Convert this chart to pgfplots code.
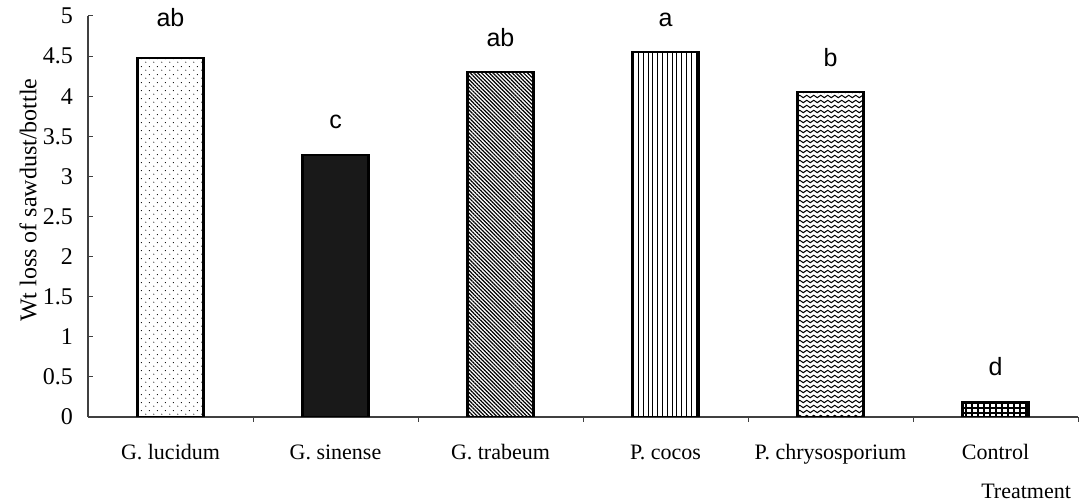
\documentclass[border=0pt]{standalone}
\usepackage{fontspec}
\setmainfont{Liberation Serif}
\setsansfont{Liberation Sans}
\usepackage{pgfplots}
\pgfplotsset{compat=1.18}
\usetikzlibrary{patterns,patterns.meta}

\pgfdeclarepatternformonly{sparsedots}{\pgfpointorigin}{\pgfpoint{4pt}{4pt}}{\pgfpoint{4pt}{4pt}}{%
  \pgfpathcircle{\pgfpoint{1pt}{1pt}}{0.32pt}%
  \pgfpathcircle{\pgfpoint{3pt}{3pt}}{0.32pt}%
  \pgfusepath{fill}}
\pgfdeclarepatternformonly{waves}{\pgfpoint{-0.3pt}{-0.3pt}}{\pgfpoint{3.8pt}{2.8pt}}{\pgfpoint{3.5pt}{2.5pt}}{%
  \pgfsetlinewidth{0.5pt}%
  \pgfpathmoveto{\pgfpoint{0pt}{1.25pt}}%
  \pgfpathcurveto{\pgfpoint{0.45pt}{2.05pt}}{\pgfpoint{1.3pt}{2.05pt}}{\pgfpoint{1.75pt}{1.25pt}}%
  \pgfpathcurveto{\pgfpoint{2.2pt}{0.45pt}}{\pgfpoint{3.05pt}{0.45pt}}{\pgfpoint{3.5pt}{1.25pt}}%
  \pgfusepath{stroke}}
\pgfdeclarepatternformonly{densegrid}{\pgfpoint{-0.5pt}{-0.5pt}}{\pgfpoint{3.5pt}{2.9pt}}{\pgfpoint{3pt}{2.4pt}}{%
  \pgfsetlinewidth{0.9pt}%
  \pgfpathmoveto{\pgfpoint{0pt}{0pt}}\pgfpathlineto{\pgfpoint{3pt}{0pt}}%
  \pgfpathmoveto{\pgfpoint{0pt}{0pt}}\pgfpathlineto{\pgfpoint{0pt}{2.4pt}}%
  \pgfusepath{stroke}}

\begin{document}
\begin{tikzpicture}
\begin{axis}[
  scale only axis,
  width=495pt, height=200.5pt,
  axis lines*=left,
  axis line style={black!75, line width=0.6pt},
  xmin=-0.5, xmax=5.5, ymin=0, ymax=5,
  enlargelimits=false,
  tick align=inside,
  major tick length=2.5pt, minor tick length=2.5pt,
  tick style={black!75, line width=0.5pt},
  ytick={0,0.5,...,5},
  yticklabel style={/pgf/number format/assume math mode=true, /pgf/number format/fixed, font=\fontsize{12}{14}\selectfont, xshift=-4pt},
  xtick={0,1,2,3,4,5},
  xticklabels={G. lucidum, G. sinense, G. trabeum, P. cocos, P. chrysosporium, Control},
  major x tick style={draw=none},
  minor xtick={0.5,1.5,2.5,3.5,4.5,5.5},
  xticklabel style={anchor=base, yshift=-19pt, font=\fontsize{11}{13}\selectfont},
  ylabel={Wt loss of sawdust/bottle},
  ylabel style={at={(axis description cs:-0.0606,0.541)}, anchor=center, font=\fontsize{12}{14}\selectfont},
  xlabel={Treatment},
  xlabel style={at={(axis description cs:1,0)}, anchor=base east, yshift=-41pt, font=\fontsize{11}{13}\selectfont},
  ybar,
  bar width=33pt,
  point meta=explicit symbolic,
  nodes near coords,
  nodes near coords style={anchor=base, yshift=13pt, font=\sffamily\fontsize{12.5}{14}\selectfont, text=black},
]
\addplot[bar shift=0pt, draw=black, line width=1.1pt, pattern=sparsedots, nodes near coords style={yshift=2.5pt}] coordinates {(0,4.48) [ab]};
\addplot[bar shift=0pt, draw=black, line width=1.1pt, fill=black!90] coordinates {(1,3.27) [c]};
\addplot[bar shift=0pt, draw=black, line width=1.1pt, pattern={Lines[angle=-45, distance=1.35pt, line width=0.6pt]}] coordinates {(2,4.30) [ab]};
\addplot[bar shift=0pt, draw=black, line width=1.1pt, pattern={Lines[angle=90, distance=2.4pt, line width=0.5pt]}] coordinates {(3,4.55) [a]};
\addplot[bar shift=0pt, draw=black, line width=1.1pt, pattern=waves] coordinates {(4,4.05) [b]};
\addplot[bar shift=0pt, draw=black, line width=1.1pt, pattern=densegrid] coordinates {(5,0.19) [d]};
\end{axis}
\pgfresetboundingbox
\path ([shift={(-44pt,-43.5pt)}]current axis.south west) rectangle ([shift={(2.5pt,8pt)}]current axis.north east);
\end{tikzpicture}
\end{document}
